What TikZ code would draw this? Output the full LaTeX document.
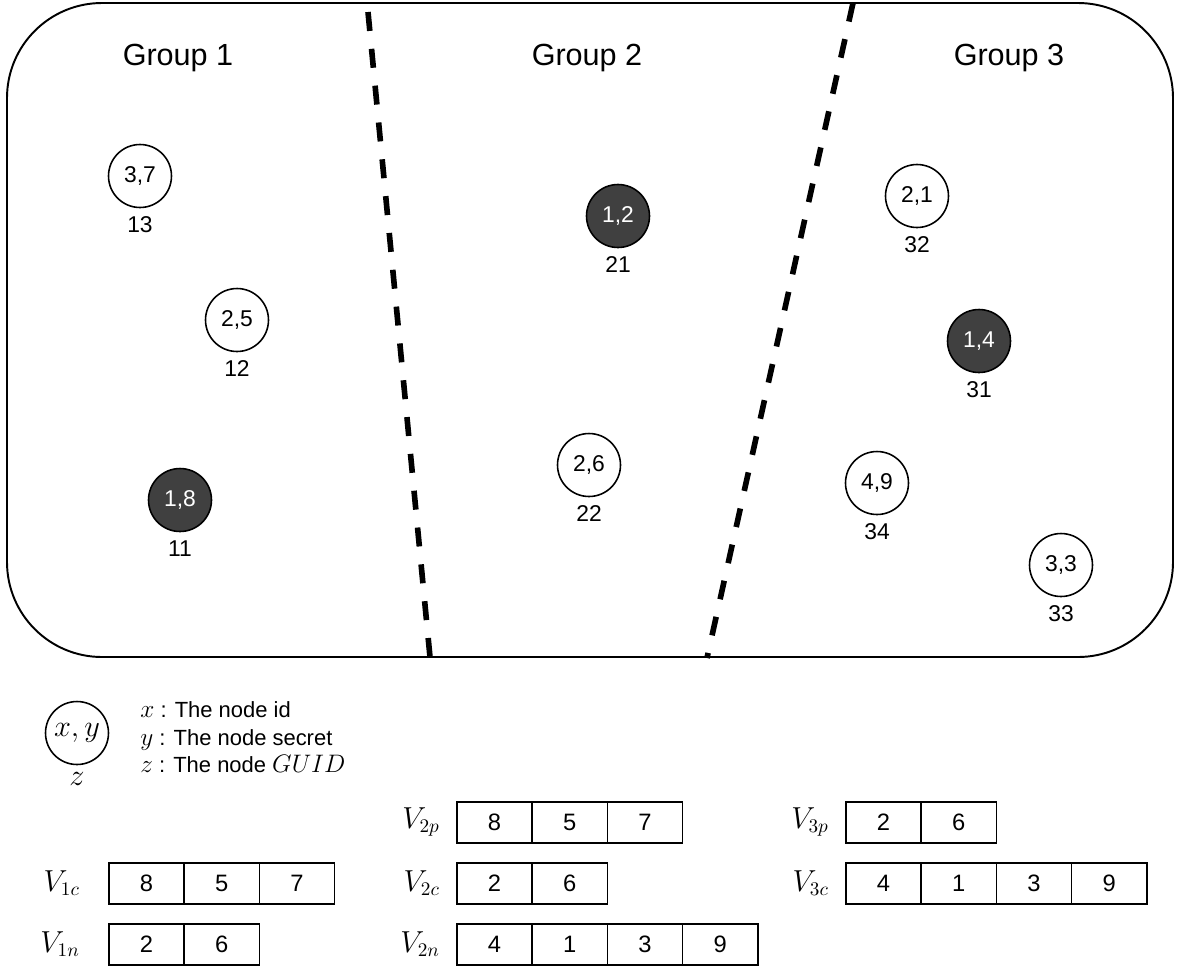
\documentclass[tikz,border=0pt]{standalone}
\usepackage[no-math]{fontspec}
\setmainfont{Liberation Sans}
\usetikzlibrary{positioning}

\definecolor{leadergray}{HTML}{404040}

\tikzset{
	member/.style={circle, draw, line width=0.9pt, minimum size=1.26cm, inner sep=0pt,
		font=\fontsize{13}{15}\selectfont},
	leader/.style={member, fill=leadergray, text=white},
	guid/.style={inner sep=0pt, font=\fontsize{13}{15}\selectfont},
	grouplabel/.style={anchor=base, font=\fontsize{17.4}{20}\selectfont},
	divider/.style={line width=3.2pt, dash pattern=on 0.38cm off 0.36cm},
	cell/.style={draw, line width=0.9pt, anchor=north west, minimum width=1.506cm,
		minimum height=0.82cm, inner sep=0pt, font=\fontsize{13.5}{16}\selectfont},
	vlabel/.style={anchor=east, font=\fontsize{16}{18}\selectfont},
	keytext/.style={anchor=base west, inner sep=0pt, font=\fontsize{12.5}{15}\selectfont},
}

% math letters in the key are set larger than the text around them
\newcommand{\keyvar}[1]{{\fontsize{15}{15}\selectfont$#1$}}

\begin{document}
\begin{tikzpicture}[x=0.02cm, y=-0.02cm, node distance=0.16cm]
	\useasboundingbox (0,0) rectangle (1177,968);

	% the network and its three groups
	\draw[line width=1.1pt, rounded corners=1.9cm] (7,3) rectangle (1173,657);
	\draw[divider] (368,12) -- (430,657);
	\draw[divider] (853,3) -- (707,658);

	\node[grouplabel] (grp1) at (178,65) {Group 1};
	\node[grouplabel] (grp2) at (587,65) {Group 2};
	\node[grouplabel] (grp3) at (1009,65) {Group 3};

	% group 1
	\node[member] (n13) at (140,176) {3,7};
	\node[guid, below=of n13] (g13) {13};
	\node[member] (n12) at (237,320) {2,5};
	\node[guid, below=of n12] (g12) {12};
	\node[leader] (n11) at (180,500) {1,8};
	\node[guid, below=of n11] (g11) {11};

	% group 2
	\node[leader] (n21) at (618,216) {1,2};
	\node[guid, below=of n21] (g21) {21};
	\node[member] (n22) at (589,465) {2,6};
	\node[guid, below=of n22] (g22) {22};

	% group 3
	\node[member] (n32) at (917,196) {2,1};
	\node[guid, below=of n32] (g32) {32};
	\node[leader] (n31) at (979,341) {1,4};
	\node[guid, below=of n31] (g31) {31};
	\node[member] (n34) at (877,483) {4,9};
	\node[guid, below=of n34] (g34) {34};
	\node[member] (n33) at (1061,565) {3,3};
	\node[guid, below=of n33] (g33) {33};

	% key
	\node[member, font=\fontsize{16}{18}\selectfont] (key) at (77,733) {$x,y$};
	\node[anchor=base, inner sep=0pt, font=\fontsize{16}{18}\selectfont] (keyz) at (77,785) {$z$};
	\node[keytext] (keyx-text) at (140,717) {\keyvar{x} : The node id};
	\node[keytext] (keyy-text) at (140,745) {\keyvar{y} : The node secret};
	\node[keytext] (keyz-text) at (140,772) {\keyvar{z} : The node \keyvar{GUID}};

	% vectors
	\node[vlabel] (v1c) at (86,883) {$V_{1c}$};
	\foreach \v [count=\k] in {8,5,7}
		\node[cell] (v1c-\k) at ({108+75.3*(\k-1)},862) {\v};
	\node[vlabel] (v1n) at (86,944) {$V_{1n}$};
	\foreach \v [count=\k] in {2,6}
		\node[cell] (v1n-\k) at ({108+75.3*(\k-1)},923) {\v};

	\node[vlabel] (v2p) at (446,822) {$V_{2p}$};
	\foreach \v [count=\k] in {8,5,7}
		\node[cell] (v2p-\k) at ({456+75.3*(\k-1)},801) {\v};
	\node[vlabel] (v2c) at (446,883) {$V_{2c}$};
	\foreach \v [count=\k] in {2,6}
		\node[cell] (v2c-\k) at ({456+75.3*(\k-1)},862) {\v};
	\node[vlabel] (v2n) at (446,944) {$V_{2n}$};
	\foreach \v [count=\k] in {4,1,3,9}
		\node[cell] (v2n-\k) at ({456+75.3*(\k-1)},923) {\v};

	\node[vlabel] (v3p) at (835,822) {$V_{3p}$};
	\foreach \v [count=\k] in {2,6}
		\node[cell] (v3p-\k) at ({845+75.3*(\k-1)},801) {\v};
	\node[vlabel] (v3c) at (835,883) {$V_{3c}$};
	\foreach \v [count=\k] in {4,1,3,9}
		\node[cell] (v3c-\k) at ({845+75.3*(\k-1)},862) {\v};
\end{tikzpicture}
\end{document}
